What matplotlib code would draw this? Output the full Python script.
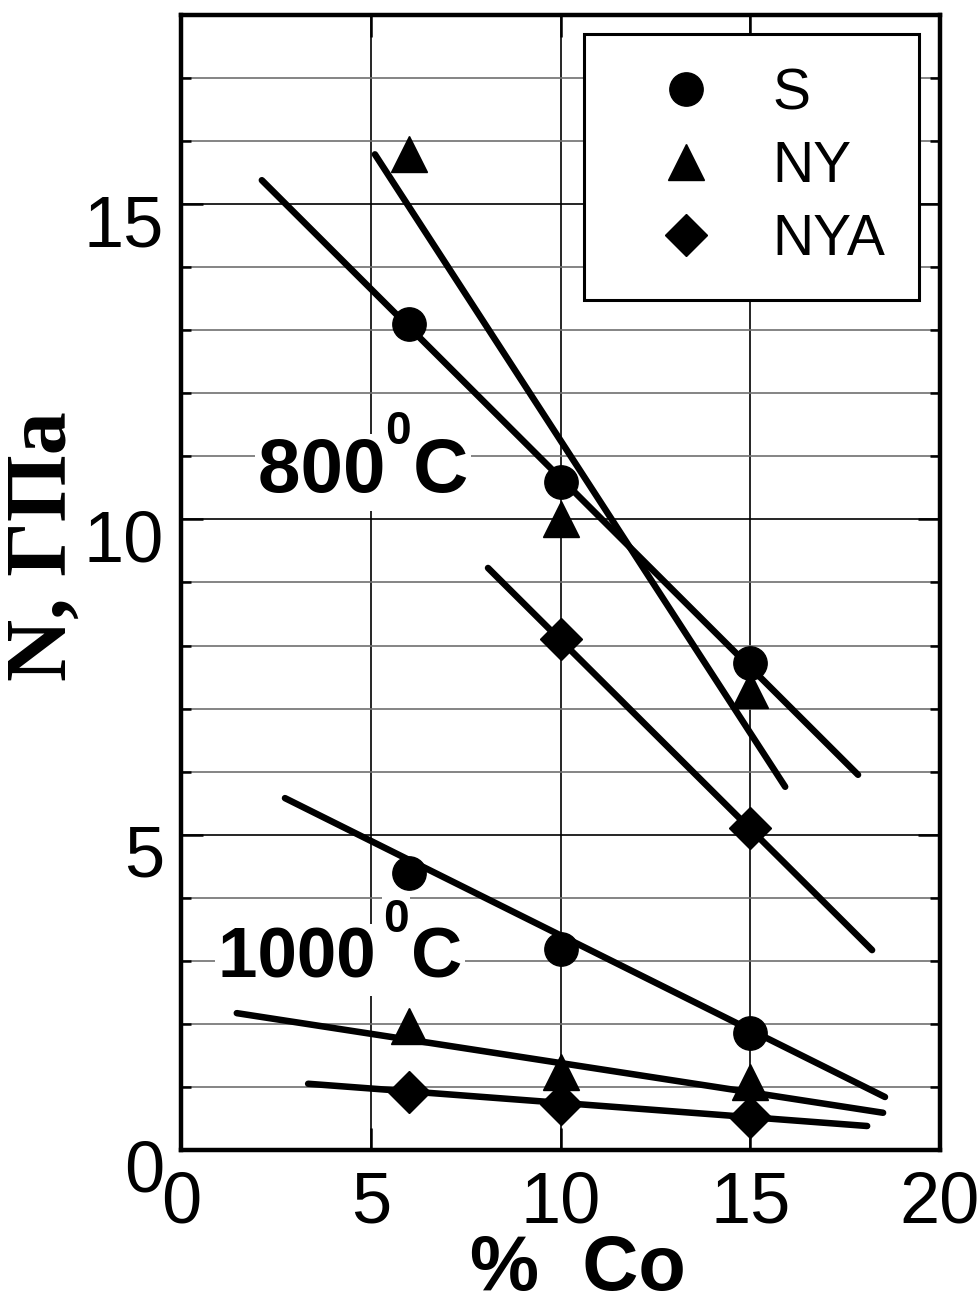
import numpy as np
import matplotlib
matplotlib.use('Agg')
import matplotlib.pyplot as plt
from matplotlib.ticker import MultipleLocator
from matplotlib.lines import Line2D
import matplotlib.transforms as mtransforms

plt.rcParams['font.family'] = ['Liberation Sans', 'DejaVu Sans']

# % Co for the measured points
co = [6, 10, 15]
co_nya800 = [10, 15]

# hardness N, GPa (800 C)
s_800 = [13.1, 10.6, 7.72]
ny_800 = [15.8, 10.0, 7.3]
nya_800 = [8.1, 5.1]

# hardness N, GPa (1000 C)
s_1000 = [4.39, 3.19, 1.85]
ny_1000 = [1.97, 1.24, 1.08]
nya_1000 = [0.92, 0.73, 0.53]

# straight fit lines: (x start, x end), (y start, y end)
fit_x = [(2.13, 17.84), (5.11, 15.92), (8.09, 18.21),
         (2.74, 18.55), (1.47, 18.5), (3.35, 18.08)]
fit_y = [(15.38, 5.95), (15.79, 5.76), (9.23, 3.17),
         (5.58, 0.84), (2.17, 0.59), (1.05, 0.38)]

fig = plt.figure(figsize=(9.8, 13.05), dpi=100)
ax = fig.add_axes([0.1847, 0.1188, 0.7745, 0.8697])

for xs, ys in zip(fit_x, fit_y):
    ax.plot(xs, ys, color='black', lw=4.7, solid_capstyle='round', zorder=3)

ms_c, ms_t, ms_d = 24, 26, 21
ax.plot(co, s_800, 'o', color='black', ms=ms_c, zorder=4)
ax.plot(co, ny_800, '^', color='black', ms=ms_t, zorder=4)
ax.plot(co_nya800, nya_800, 'D', color='black', ms=ms_d, zorder=4)
ax.plot(co, s_1000, 'o', color='black', ms=ms_c, zorder=4)
ax.plot(co, ny_1000, '^', color='black', ms=ms_t, zorder=4)
ax.plot(co, nya_1000, 'D', color='black', ms=ms_d, zorder=4)

ax.set_xlim(0, 20)
ax.set_ylim(0, 18)
ax.set_xticks([0, 5, 10, 15, 20])
ax.set_yticks([0, 5, 10, 15])
ax.yaxis.set_minor_locator(MultipleLocator(1))

ax.set_axisbelow(True)
ax.grid(which='minor', axis='y', color='#707070', lw=1.2)
ax.grid(which='major', axis='y', color='black', lw=1.2)
ax.grid(which='major', axis='x', color='black', lw=1.2)

ax.tick_params(which='both', direction='in', top=True, right=True)
ax.tick_params(which='major', length=16, width=1.8, labelsize=52)
ax.tick_params(which='minor', length=7, width=1.8)
ax.tick_params(axis='x', pad=15)
ax.tick_params(axis='y', pad=12)
for sp in ax.spines.values():
    sp.set_linewidth(3.2)

# y labels sit a little below their ticks
off = mtransforms.ScaledTranslation(0, -16 / 100, fig.dpi_scale_trans)
for lbl in ax.get_yticklabels():
    lbl.set_transform(lbl.get_transform() + off)

ax.set_xlabel('%  Co', fontsize=56, fontweight='bold')
ax.xaxis.label.set_va('baseline')
ax.xaxis.set_label_coords(0.523, -0.1232)
ax.set_ylabel('N, ГПа', fontsize=62, fontweight='bold',
              family=['Liberation Serif', 'DejaVu Serif'])
ax.yaxis.label.set_va('center')
ax.yaxis.set_label_coords(-0.179, 0.532)

# temperature labels: main text plus a raised "0"
bbox = dict(facecolor='white', edgecolor='none', pad=2)
sup_box = dict(facecolor='white', edgecolor='none', pad=0.5)
t800 = ax.text(2.03, 10.43, '800 \u200aC', fontsize=55, fontweight='bold',
               ha='left', va='baseline', bbox=bbox, zorder=2.5)
ax.annotate('0', xy=(1, 1), xycoords=t800, xytext=(-41.5, 20),
            textcoords='offset points', ha='right', va='top',
            fontsize=33, fontweight='bold', zorder=2.6, bbox=sup_box)
t1000 = ax.text(0.97, 2.73, '1000\u2002C', fontsize=51, fontweight='bold',
                ha='left', va='baseline', bbox=bbox, zorder=2.5)
ax.annotate('0', xy=(1, 1), xycoords=t1000, xytext=(-38.2, 20.8),
            textcoords='offset points', ha='right', va='top',
            fontsize=33, fontweight='bold', zorder=2.6, bbox=sup_box)

handles = [Line2D([], [], ls='none', marker='o', color='black', ms=ms_c),
           Line2D([], [], ls='none', marker='^', color='black', ms=ms_t),
           Line2D([], [], ls='none', marker='D', color='black', ms=ms_d)]
leg = ax.legend(handles, ['S', 'NY', 'NYA'], loc='upper right',
                bbox_to_anchor=(0.972, 0.983), fontsize=41, frameon=True,
                fancybox=False, edgecolor='black', framealpha=1,
                borderpad=0.58, handlelength=2.42, handletextpad=0.32,
                labelspacing=0.33, borderaxespad=0)
leg.get_frame().set_linewidth(2.2)
leg.set_zorder(5)

fig.savefig('out.png', dpi=100)
